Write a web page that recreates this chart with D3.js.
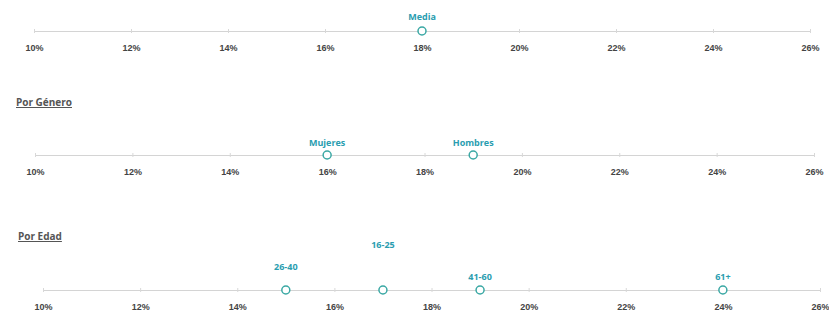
<!DOCTYPE html>
<html>
<head>
<meta charset="utf-8">
<script src="https://cdn.jsdelivr.net/npm/d3@7"></script>
<style>
  body { margin: 0; background: #fff; }
  svg { display: block; font-family: "Open Sans", sans-serif; }
</style>
</head>
<body>
<svg id="chart"></svg>
<script>
// axis ticks (percent)
const tickValues = [10, 12, 14, 16, 18, 20, 22, 24, 26];

// overall
const mediaLabels = ["Media"];
const mediaValues = [18];

// by gender
const generoLabels = ["Mujeres", "Hombres"];
const generoValues = [16, 19];

// by age
const edadLabels = ["16-25", "26-40", "41-60", "61+"];
const edadValues = [17, 15, 19, 24];

const width = 829;
const height = 313;
const teal = "#2a9db0";

const svg = d3.select("#chart").attr("width", width).attr("height", height);

// layout for each strip: x range, axis y, title, label lift per point
const panels = [
  { labels: mediaLabels, values: mediaValues, x0: 34, x1: 810, y: 31, lift: [11] },
  { labels: generoLabels, values: generoValues, x0: 35, x1: 814, y: 155, lift: [9, 9],
    title: "Por Género", tx: 16, ty: 106 },
  { labels: edadLabels, values: edadValues, x0: 43, x1: 820, y: 290, lift: [42, 20, 10, 10],
    title: "Por Edad", tx: 18, ty: 240 }
];

panels.forEach(p => {
  const x = d3.scaleLinear().domain([10, 26]).range([p.x0, p.x1]);

  const axis = d3.axisBottom(x)
    .tickValues(tickValues)
    .tickSize(2)
    .tickSizeOuter(0)
    .tickPadding(12)
    .tickFormat(d => d + "%");

  const g = svg.append("g").attr("transform", `translate(0,${p.y})`).call(axis);
  g.select(".domain").attr("stroke", "#d4d4d4").attr("stroke-width", 1.2);
  g.selectAll(".tick line").attr("stroke", "#d8d8d8").attr("y1", -2);
  g.selectAll(".tick text")
    .attr("fill", "#444")
    .style("font-size", "9px")
    .style("font-weight", "700");

  if (p.title) {
    svg.append("text")
      .attr("x", p.tx)
      .attr("y", p.ty)
      .attr("fill", "#555")
      .style("font-size", "10px")
      .style("font-weight", "700")
      .style("text-decoration", "underline")
      .text(p.title);
  }

  const pts = svg.append("g").selectAll("g")
    .data(p.values.map((v, i) => ({ v, label: p.labels[i], lift: p.lift[i] })))
    .join("g");

  pts.append("circle")
    .attr("cx", d => x(d.v))
    .attr("cy", p.y)
    .attr("r", 4)
    .attr("fill", "#fff")
    .attr("stroke", "#3aa8a4")
    .attr("stroke-width", 1.5);

  pts.append("text")
    .attr("x", d => x(d.v))
    .attr("y", d => p.y - d.lift)
    .attr("text-anchor", "middle")
    .attr("fill", teal)
    .style("font-size", "9px")
    .style("font-weight", "700")
    .text(d => d.label);
});
</script>
</body>
</html>
